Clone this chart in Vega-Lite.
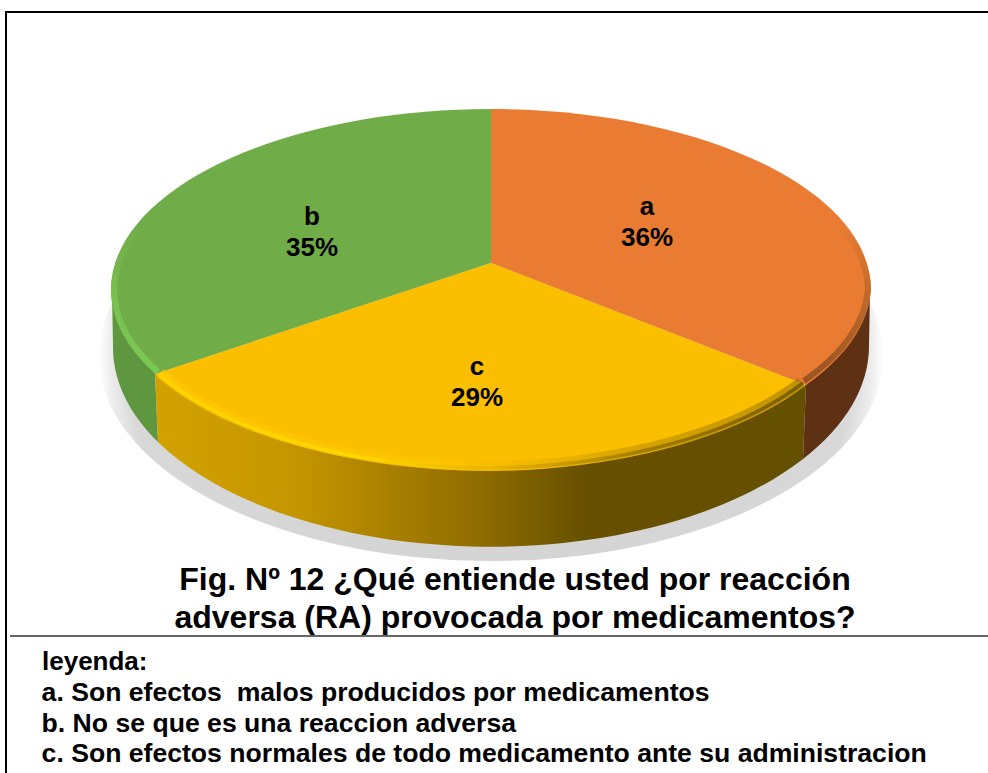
{
"$schema":"https://vega.github.io/schema/vega-lite/v6.json",
"width":988,"height":773,"padding":0,"autosize":{"type":"none"},"background":"white",
"config":{"view":{"stroke":null},"axis":{"disable":true},"font":"Liberation Sans"},
"title":{"text":["Fig. Nº 12 ¿Qué entiende usted por reacción","adversa (RA) provocada por medicamentos?"],"orient":"bottom","anchor":"middle","dx":21,"offset":-209,"font":"Liberation Sans","fontSize":32,"fontWeight":"bold","color":"#000000","lineHeight":38},
"datasets":{"rebanadas":[
{"categoria":"a","porcentaje":36,"etiqueta":"a\n36%","leyenda":"a. Son efectos\u00a0 malos producidos por medicamentos"},
{"categoria":"b","porcentaje":35,"etiqueta":"b\n35%","leyenda":"b. No se que es una reaccion adversa"},
{"categoria":"c","porcentaje":29,"etiqueta":"c\n29%","leyenda":"c. Son efectos normales de todo medicamento ante su administracion"}
],"marco":[{"elemento":"marco"}]},
"data":{"name":"rebanadas"},
"encoding":{
"x":{"datum":491,"type":"quantitative","scale":{"domain":[0,988],"range":[0,988]}},
"y":{"datum":290,"type":"quantitative","scale":{"domain":[0,773],"range":[0,773]}}
},
"layer":[
{"data":{"name":"marco"},"mark":{"type":"point","filled":true,"opacity":1,"size":4,"strokeWidth":0,"shape":"M-392,66 A392,205 0 1 1 392,66 A392,205 0 1 1 -392,66 Z","fill":{"gradient":"radial","x1":0.5,"y1":0.5,"r1":0,"x2":0.5,"y2":0.5,"r2":0.5,"stops":[{"offset":0,"color":"#d0d0d0"},{"offset":0.92,"color":"#d8d8d8"},{"offset":0.97,"color":"#ececec"},{"offset":1,"color":"#ffffff"}]}}},
{"transform":[{"filter":"datum.categoria==='b'"}],"mark":{"type":"point","filled":true,"opacity":1,"size":4,"strokeWidth":0,"fill":"#5F9640","shape":"M-379,0 L-378,56 A378,200 0 0 0 -333,152 L-336,84 Z"}},
{"transform":[{"filter":"datum.categoria==='a'"}],"mark":{"type":"point","filled":true,"opacity":1,"size":4,"strokeWidth":0,"fill":"#5F3114","shape":"M379,0 L378,56 A378,200 0 0 1 312,169 L315,95 Z"}},
{"transform":[{"filter":"datum.categoria==='c'"}],"mark":{"type":"point","filled":true,"opacity":1,"size":4,"strokeWidth":0,"shape":"M-336,84 L-333,152 A378,200 0 0 0 312,169 L315,95 L0,0 Z","fill":{"gradient":"linear","x1":0,"y1":0,"x2":1,"y2":0,"stops":[{"offset":0,"color":"#D3A200"},{"offset":0.22,"color":"#C49500"},{"offset":0.5,"color":"#8E6C00"},{"offset":0.66,"color":"#675000"},{"offset":1,"color":"#655000"}]}}},
{"mark":{"type":"point","filled":true,"opacity":1,"size":4,"strokeWidth":0},
 "encoding":{
  "shape":{"field":"categoria","type":"nominal","legend":null,"scale":{"domain":["a","b","c"],"range":[
   "M0,-27 L0,-181 A380,181 0 0 1 380,0 A380,181 0 0 1 315,95 Z",
   "M0,-27 L-336,84 A380,181 0 0 1 -380,0 A380,181 0 0 1 0,-181 Z",
   "M0,-27 L315,95 A380,181 0 0 1 0,181 A380,181 0 0 1 -336,84 Z"]}},
  "color":{"field":"leyenda","type":"nominal","scale":{"range":["#E97B32","#70AC48","#FBBF00"]},
   "legend":{"orient":"none","legendX":42,"legendY":649,"title":"leyenda:","symbolSize":0,"symbolOpacity":0,"symbolStrokeWidth":0,"labelOffset":-27,"labelLimit":1000,"titleLimit":500,"padding":0,"rowPadding":3.4,"titlePadding":5,"labelFont":"Liberation Sans","titleFont":"Liberation Sans","labelFontSize":26.6,"titleFontSize":26,"labelFontWeight":"bold","titleFontWeight":"bold","labelColor":"#000000","titleColor":"#000000"}}
 }},
{"transform":[{"filter":"datum.categoria==='c'"}],"mark":{"type":"point","filled":false,"fill":null,"opacity":0.45,"size":4,"strokeWidth":10,"shape":"M-331,83 A375,176 0 0 0 0,176 A375,176 0 0 0 310,92","stroke":{"gradient":"linear","x1":0,"y1":0,"x2":1,"y2":0,"stops":[{"offset":0,"color":"#FFD000"},{"offset":0.45,"color":"#FFC800"},{"offset":0.6,"color":"#E0AC00"},{"offset":0.75,"color":"#A88000"},{"offset":1,"color":"#7A5E00"}]}}},
{"transform":[{"filter":"datum.categoria==='c'"}],"mark":{"type":"point","filled":false,"fill":null,"opacity":0.85,"size":4,"strokeWidth":3.5,"shape":"M-332,84 A377,178 0 0 0 0,178 A377,178 0 0 0 312,93","stroke":{"gradient":"linear","x1":0,"y1":0,"x2":1,"y2":0,"stops":[{"offset":0,"color":"#FFD400"},{"offset":0.3,"color":"#FFDC00"},{"offset":0.52,"color":"#E8B000"},{"offset":0.75,"color":"#9A7500"},{"offset":1,"color":"#6E5500"}]}}},
{"transform":[{"filter":"datum.categoria==='b'"}],"mark":{"type":"point","filled":false,"fill":null,"opacity":1,"size":4,"strokeWidth":6,"shape":"M-333,82 A377,178 0 0 1 -377,0 A377,178 0 0 1 -350,-65","stroke":{"gradient":"linear","x1":0,"y1":1,"x2":0,"y2":0,"stops":[{"offset":0,"color":"#7CC955"},{"offset":0.5,"color":"#78C050"},{"offset":1,"color":"#70AC48"}]}}},
{"transform":[{"filter":"datum.categoria==='a'"}],"mark":{"type":"point","filled":false,"fill":null,"opacity":1,"size":4,"strokeWidth":6,"shape":"M313,91 A377,178 0 0 0 377,0 A377,178 0 0 0 350,-65","stroke":{"gradient":"linear","x1":0,"y1":1,"x2":0,"y2":0,"stops":[{"offset":0,"color":"#9A5424"},{"offset":0.5,"color":"#BC682A"},{"offset":1,"color":"#E97B32"}]}}},
{"transform":[{"filter":"datum.categoria==='a'"}],"mark":{"type":"text","font":"Liberation Sans","fontWeight":"bold","fontSize":26,"lineHeight":31,"lineBreak":"\n","align":"center","baseline":"alphabetic","color":"#000000"},"encoding":{"x":{"datum":647},"y":{"datum":215},"text":{"field":"etiqueta"}}},
{"transform":[{"filter":"datum.categoria==='b'"}],"mark":{"type":"text","font":"Liberation Sans","fontWeight":"bold","fontSize":26,"lineHeight":31,"lineBreak":"\n","align":"center","baseline":"alphabetic","color":"#000000"},"encoding":{"x":{"datum":312},"y":{"datum":225},"text":{"field":"etiqueta"}}},
{"transform":[{"filter":"datum.categoria==='c'"}],"mark":{"type":"text","font":"Liberation Sans","fontWeight":"bold","fontSize":26,"lineHeight":31,"lineBreak":"\n","align":"center","baseline":"alphabetic","color":"#000000"},"encoding":{"x":{"datum":477},"y":{"datum":375},"text":{"field":"etiqueta"}}},
{"data":{"name":"marco"},"mark":{"type":"rule","stroke":"#000000","strokeWidth":2},"encoding":{"x":{"datum":6},"y":{"datum":12},"y2":{"datum":773}}},
{"data":{"name":"marco"},"mark":{"type":"rule","stroke":"#000000","strokeWidth":2},"encoding":{"x":{"datum":5},"x2":{"datum":988},"y":{"datum":12}}},
{"data":{"name":"marco"},"mark":{"type":"rule","stroke":"#333333","strokeWidth":1.5},"encoding":{"x":{"datum":10},"x2":{"datum":988},"y":{"datum":636}}}
]
}
